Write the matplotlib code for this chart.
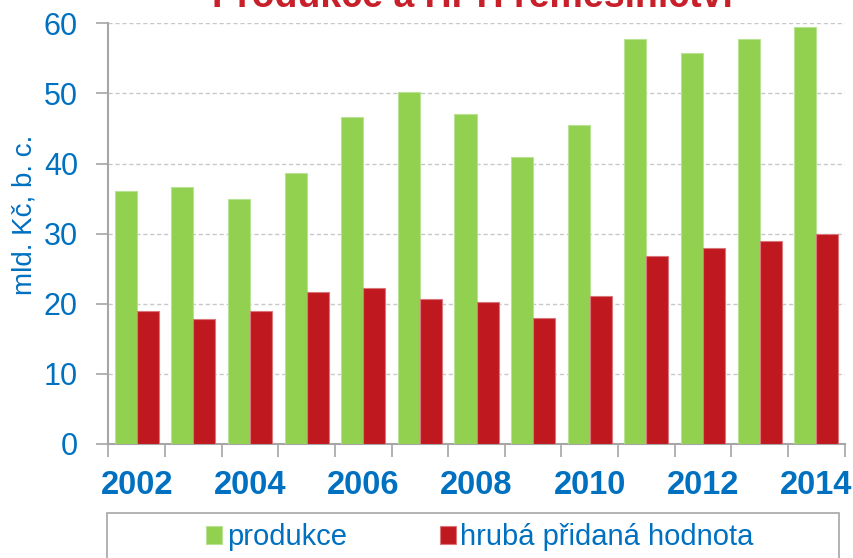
import matplotlib.pyplot as plt
import matplotlib.patches as patches
import numpy as np

years = [2002, 2003, 2004, 2005, 2006, 2007, 2008, 2009, 2010, 2011, 2012, 2013, 2014]
produkce = [36.1, 36.7, 35.0, 38.6, 46.7, 50.2, 47.1, 40.9, 45.5, 57.8, 55.8, 57.8, 59.5]
hph = [19.0, 17.8, 19.0, 21.6, 22.2, 20.7, 20.2, 17.9, 21.1, 26.8, 27.9, 28.9, 30.0]
year_labels = ['2002', '', '2004', '', '2006', '', '2008', '', '2010', '', '2012', '', '2014']

blue = '#0070C0'
green = '#92D050'
red = '#C0181F'

plt.rcParams['font.family'] = ['Liberation Sans', 'DejaVu Sans']

fig = plt.figure(figsize=(8.54, 5.58), dpi=100)
ax = fig.add_axes([0.127, 0.2048, 0.862, 0.7532])

x = np.arange(len(years))
w = 0.39
ax.bar(x - w / 2, produkce, w, color=green, edgecolor='#B8E294', linewidth=0.8,
       label='produkce', zorder=3)
ax.bar(x + w / 2, hph, w, color=red, edgecolor='#D9777C', linewidth=0.8,
       label='hrubá přidaná hodnota', zorder=3)

ax.set_xlim(-0.5, len(years) - 0.5)
ax.set_ylim(0, 60)
ax.set_yticks(range(0, 61, 10))
ax.tick_params(axis='y', labelsize=22, labelcolor=blue, color='#A6A6A6',
               length=9, width=1.2, pad=13)

ax.set_xticks(np.arange(len(years) + 1) - 0.5)
ax.set_xticklabels([])
ax.tick_params(axis='x', color='#A6A6A6', length=9, width=1.2)
for i, lab in enumerate(year_labels):
    if lab:
        ax.text(i, -3.7, lab, ha='center', va='top',
                fontsize=23.5, fontweight='bold', color=blue)

ax.grid(axis='y', color='#C8C8C8', linestyle=(0, (3, 2)), linewidth=1, zorder=0)
for s in ['top', 'right']:
    ax.spines[s].set_visible(False)
ax.spines['left'].set_color('#A6A6A6')
ax.spines['bottom'].set_color('#A6A6A6')
ax.spines['left'].set_linewidth(1.5)
ax.spines['bottom'].set_linewidth(1.5)

ax.set_ylabel('mld. Kč, b. c.', fontsize=20, color=blue)
ax.yaxis.set_label_coords(-0.097, 0.545)

fig.text(0.553, 0.988, 'Produkce a HPH řemeslnictví', ha='center', va='baseline',
         fontsize=27, fontweight='bold', color='#C8202A')

fig.add_artist(patches.Rectangle((107 / 854, -0.05), (839 - 107) / 854, 0.1306,
                                 transform=fig.transFigure, facecolor='none',
                                 edgecolor='#A6A6A6', linewidth=1.2))
fig.legend(loc='center', bbox_to_anchor=(0.562, 0.037), ncol=2, frameon=False,
           fontsize=21, handlelength=0.55, handleheight=0.55, handletextpad=0.15,
           columnspacing=3.2, labelcolor=blue)

fig.savefig('out.png', dpi=100)
